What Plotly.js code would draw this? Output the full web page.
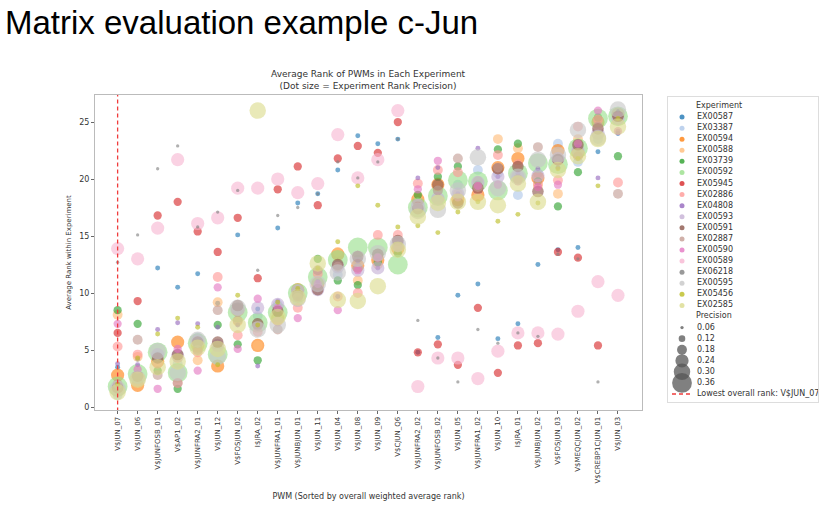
<!DOCTYPE html>
<html><head><meta charset="utf-8">
<script src="https://cdn.plot.ly/plotly-3.0.1.min.js"></script>
<style>body{margin:0;background:#fff}#c{width:827px;height:507px}</style>
</head><body><div id="c"></div>
<script>
const pwms = ["V$JUN_07","V$JUN_06","V$JUNFOSB_01","V$AP1_02","V$JUNFRA2_01","V$JUN_12","V$FOSJUN_02","I$JRA_02","V$JUNFRA1_01","V$JUNBJUN_01","V$JUN_11","V$JUN_04","V$JUN_08","V$JUN_09","V$CJUN_Q6","V$JUNFRA2_02","V$JUNFOSB_02","V$JUN_05","V$JUNFRA1_02","V$JUN_10","I$JRA_01","V$JUNBJUN_02","V$FOSJUN_03","V$MEQCJUN_02","V$CREBP1CJUN_01","V$JUN_03"];
const experiments = ["EX00587","EX03387","EX00594","EX00588","EX03739","EX00592","EX05945","EX02886","EX04808","EX00593","EX00591","EX02887","EX00590","EX00589","EX06218","EX00595","EX05456","EX02585"];
const colors = ["#1f77b4","#aec7e8","#ff7f0e","#ffbb78","#2ca02c","#98df8a","#d62728","#ff9896","#9467bd","#c5b0d5","#8c564b","#c49c94","#e377c2","#f7b6d2","#7f7f7f","#c7c7c7","#bcbd22","#dbdb8d"];
const precision = [0.09,0.18,0.24,0.18,0.15,0.36,0.15,0.18,0.09,0.24,0.21,0.18,0.15,0.24,0.06,0.30,0.09,0.30];
const EX00587 = [3.5,4.2,12.2,10.5,11.7,9.1,15.1,8.6,15.7,17.9,18.7,20.8,23.8,23.1,23.5,4.8,6.1,9.8,10.8,6.0,7.3,12.5,13.8,14.0,22.4,24.0];
const EX03387 = [1.05,2.5,4.5,3.8,6.1,5.4,8.5,8.0,9.0,9.2,11.0,11.6,12.9,13.2,14.2,18.0,19.0,19.5,20.8,20.5,18.6,20.5,23.1,21.5,23.5,25.5];
const EX00594 = [2.8,1.9,4.0,5.7,5.4,3.6,8.5,5.4,7.8,10.3,10.8,13.4,12.4,12.9,13.9,18.2,19.5,18.2,18.6,21.0,21.8,20.1,22.5,22.3,25.0,25.7];
const EX00588 = [8.1,4.4,4.0,4.3,4.1,9.2,7.5,5.4,8.0,10.0,11.0,13.6,11.1,12.5,14.5,18.5,19.7,18.7,19.8,23.5,22.7,19.4,18.7,23.5,25.1,25.5];
const EX03739 = [8.5,7.3,3.2,1.6,5.5,7.2,5.5,4.1,8.2,9.8,13.0,11.1,10.7,12.7,13.5,18.6,20.2,21.1,19.5,22.6,23.1,19.8,17.6,20.6,25.4,22.0];
const EX00592 = [1.8,2.9,4.8,3.0,5.6,4.6,8.3,7.4,8.3,10.0,11.4,12.9,14.0,14.0,12.5,17.5,18.5,19.9,19.8,19.0,20.5,21.4,21.3,22.7,25.3,25.5];
const EX05945 = [6.5,9.3,16.8,18.0,15.4,13.6,16.6,11.3,19.1,21.1,17.7,21.8,22.9,22.3,25.0,4.8,5.5,3.7,8.7,3.0,5.4,5.6,13.6,13.1,5.4,25.6];
const EX02886 = [5.3,4.6,3.8,2.1,4.8,11.4,6.3,6.6,7.5,8.7,11.7,9.7,10.0,15.1,15.1,19.6,20.8,20.6,19.0,22.1,21.3,19.6,19.9,24.6,25.2,19.7];
const EX04808 = [3.8,3.7,6.8,7.4,7.3,7.0,7.2,3.6,9.3,9.5,11.0,9.7,12.8,12.2,14.4,20.1,21.0,18.7,22.7,20.2,20.5,20.9,21.0,22.8,20.1,24.2];
const EX00593 = [1.6,2.6,4.6,4.5,5.8,5.4,8.6,8.7,9.0,10.2,10.3,12.3,12.0,12.2,14.4,17.7,18.3,18.7,19.7,20.2,20.2,20.3,21.8,22.5,24.0,25.3];
const EX00591 = [1.7,2.7,4.3,4.6,5.7,5.7,8.9,7.3,8.4,9.8,10.3,12.5,13.2,13.4,14.6,17.4,19.5,17.9,19.2,20.9,21.1,18.9,21.7,23.0,24.4,25.5];
const EX02887 = [2.0,5.9,2.8,2.1,5.0,8.5,7.6,7.1,6.8,9.6,12.0,12.3,12.2,13.1,14.0,17.6,19.0,21.8,19.3,21.0,20.0,22.8,21.6,22.0,24.6,18.7];
const EX00590 = [7.3,3.3,1.6,5.1,3.2,10.5,5.1,9.5,8.7,7.8,10.8,8.5,12.0,13.1,14.0,19.1,21.6,18.4,19.4,19.5,19.8,19.3,19.5,23.1,26.0,24.2];
const EX00589 = [13.9,13.0,15.7,21.7,16.1,16.6,19.2,19.2,20.0,18.8,19.6,23.9,20.1,21.7,26.0,1.8,4.3,4.3,2.5,4.9,6.5,6.5,6.4,8.4,11.0,9.8];
const EX06218 = [12.7,15.1,20.9,22.9,15.8,17.1,19.0,12.0,16.8,17.5,18.7,21.5,20.1,21.5,23.5,7.6,4.3,2.2,6.8,5.6,6.5,6.2,13.4,13.0,2.2,26.0];
const EX00595 = [1.6,2.5,4.9,3.0,5.9,4.4,8.7,6.8,7.2,9.5,10.8,11.8,13.0,13.5,14.3,17.2,17.3,19.0,21.9,19.2,20.2,21.7,22.1,24.3,23.6,26.1];
const EX05456 = [2.0,4.3,6.4,7.8,7.0,3.7,9.8,7.2,9.2,10.4,12.2,14.5,19.4,17.7,15.8,15.9,15.3,17.1,18.0,16.3,16.9,17.9,20.9,21.8,19.4,25.3];
const EX02585 = [1.3,2.4,3.5,4.0,5.2,5.1,7.2,26.0,7.9,9.6,12.6,9.4,9.3,10.6,13.8,16.7,17.9,18.0,18.0,17.7,19.6,18.0,20.8,22.0,23.5,24.6];
const series = [EX00587,EX03387,EX00594,EX00588,EX03739,EX00592,EX05945,EX02886,EX04808,EX00593,EX00591,EX02887,EX00590,EX00589,EX06218,EX00595,EX05456,EX02585];
const precLevels = [0.06,0.12,0.18,0.24,0.30,0.36];
const lowestPwm = "V$JUN_07";

const S = 55;
const traces = [];
experiments.forEach((e,i)=>{
  traces.push({type:"scatter",mode:"markers",x:pwms,y:series[i],name:e,showlegend:false,
    marker:{color:colors[i],size:precision[i]*S,opacity:0.62,line:{width:0}}});
});

const expRows = experiments.map((e,i)=>i+1);
const precRows = precLevels.map((p,i)=>20+i);
const legendLabels = ["Experiment"].concat(experiments,["Precision"],precLevels.map(p=>p.toFixed(2)),["Lowest overall rank: "+lowestPwm]);
const legendRows = legendLabels.map((t,i)=>i);
const lx = legendLabels.map((t,i)=>(i===0||i===19)?28:(i===26?29:29));
traces.push({type:"scatter",mode:"markers",xaxis:"x2",yaxis:"y2",x:expRows.map(()=>14),y:expRows,showlegend:false,
  marker:{color:colors,size:5,opacity:0.8}});
traces.push({type:"scatter",mode:"markers",xaxis:"x2",yaxis:"y2",x:precRows.map(()=>14),y:precRows,showlegend:false,
  marker:{color:"#555",size:precLevels.map(p=>p*S),opacity:0.75,line:{width:0}}});
traces.push({type:"scatter",mode:"lines",xaxis:"x2",yaxis:"y2",x:[4,24],y:[26,26],showlegend:false,
  line:{color:"#f03c3c",dash:"4px,3px",width:1.3}});
traces.push({type:"scatter",mode:"text",xaxis:"x2",yaxis:"y2",x:lx,y:legendRows,text:legendLabels,cliponaxis:false,
  textposition:"middle right",textfont:{size:8,color:"#333"},showlegend:false});
traces.push({type:"scatter",mode:"lines",x:[lowestPwm,lowestPwm],y:[-1,30],showlegend:false,
  line:{color:"#f03c3c",dash:"4px,3px",width:1.3}});

const W = 727;
const layout = {
  width:827,height:507,margin:{l:95,r:5,t:95,b:97},
  paper_bgcolor:"#fff",plot_bgcolor:"#fff",showlegend:false,
  font:{family:"DejaVu Sans, sans-serif",size:8,color:"#333"},
  xaxis:{type:"category",domain:[0,547/W],range:[-1.13,26.2],tickangle:-90,tickfont:{size:7},showgrid:false,
    ticks:"outside",ticklen:3,tickcolor:"#666",showline:true,mirror:true,linecolor:"#bbb",
    title:{text:"PWM (Sorted by overall weighted average rank)",font:{size:8},standoff:10},zeroline:false},
  yaxis:{range:[-0.26,27.37],tickvals:[0,5,10,15,20,25],tickfont:{size:8},showgrid:false,
    ticks:"outside",ticklen:3,tickcolor:"#666",showline:true,mirror:true,linecolor:"#bbb",zeroline:false,
    title:{text:"Average Rank within Experiment",font:{size:7}}},
  xaxis2:{domain:[573/W,723/W],range:[0,150],anchor:"y2",showticklabels:false,ticks:"",showgrid:false,zeroline:false,
    showline:true,mirror:true,linecolor:"#ddd"},
  yaxis2:{domain:[8/315,313/315],range:[26.72,-0.81],anchor:"x2",showticklabels:false,ticks:"",showgrid:false,zeroline:false,
    showline:true,mirror:true,linecolor:"#ddd"},
  annotations:[
    {text:"Matrix evaluation example c-Jun",xref:"paper",yref:"paper",x:-92/W,y:(410-23)/315,xanchor:"left",yanchor:"middle",
     showarrow:false,font:{family:"Liberation Sans, Arial, sans-serif",size:33,color:"#000"}},
    {text:"Average Rank of PWMs in Each Experiment<br>(Dot size = Experiment Rank Precision)",xref:"paper",yref:"paper",
     x:273.5/W,y:1.005,xanchor:"center",yanchor:"bottom",showarrow:false,font:{size:9,color:"#333"}}
  ]
};
Plotly.newPlot("c",traces,layout,{displayModeBar:false,staticPlot:true});
</script></body></html>
